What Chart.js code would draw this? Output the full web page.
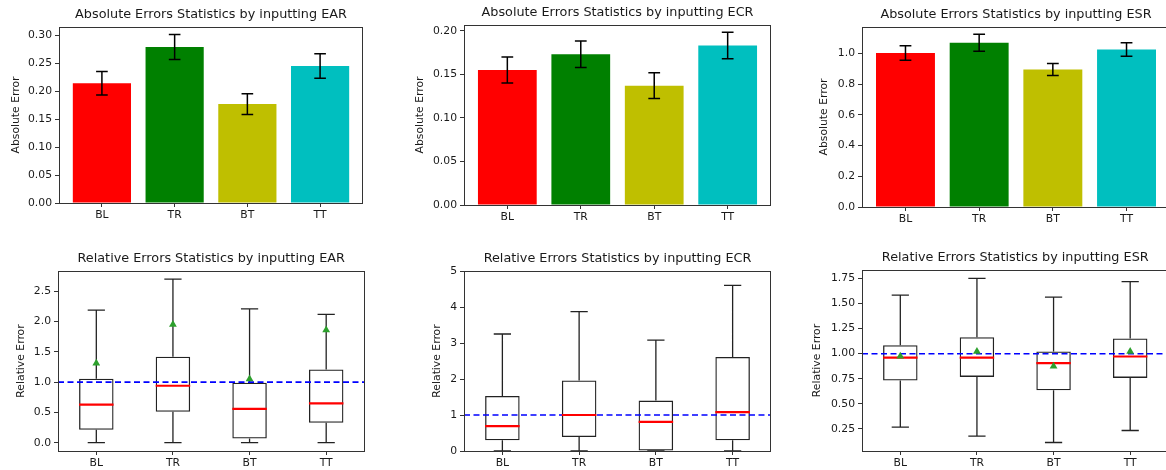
<!DOCTYPE html>
<html>
<head>
<meta charset="utf-8">
<script src="https://cdn.jsdelivr.net/npm/chart.js@4.4.1/dist/chart.umd.min.js"></script>
<style>
  html, body { margin: 0; padding: 0; background: #fff; width: 1166px; height: 470px; overflow: hidden; }
</style>
</head>
<body>
<script>
// ---- data ----
const groups = ['BL', 'TR', 'BT', 'TT'];
const barColors = ['#ff0000', '#008000', '#bfbf00', '#00bfbf'];

// absolute errors: mean and error-bar half height
const earAbsMean = [0.214, 0.279, 0.177, 0.245];
const earAbsErr = [0.021, 0.0225, 0.0185, 0.022];
const ecrAbsMean = [0.155, 0.173, 0.137, 0.183];
const ecrAbsErr = [0.015, 0.0152, 0.0148, 0.0152];
const esrAbsMean = [1.004, 1.07, 0.896, 1.026];
const esrAbsErr = [0.047, 0.055, 0.039, 0.044];

// relative errors: box plot stats
const earLo = [0, 0, 0, 0];
const earQ1 = [0.215, 0.51, 0.07, 0.33];
const earMed = [0.63, 0.94, 0.56, 0.65];
const earQ3 = [1.055, 1.42, 0.99, 1.21];
const earHi = [2.19, 2.70, 2.21, 2.12];
const earMean = [1.31, 1.95, 1.05, 1.86];

const ecrLo = [0, 0, 0, 0];
const ecrQ1 = [0.30, 0.39, 0.0, 0.30];
const ecrMed = [0.69, 1.00, 0.81, 1.08];
const ecrQ3 = [1.53, 1.96, 1.40, 2.61];
const ecrHi = [3.25, 3.87, 3.08, 4.60];

const esrLo = [0.267, 0.176, 0.113, 0.233];
const esrQ1 = [0.731, 0.768, 0.634, 0.758];
const esrMed = [0.961, 0.961, 0.905, 0.972];
const esrQ3 = [1.085, 1.165, 1.022, 1.152];
const esrHi = [1.586, 1.753, 1.566, 1.72];
const esrMean = [0.975, 1.022, 0.875, 1.022];

const refLine = 1.0;

// tick labels
const earAbsTicks = ['0.00', '0.05', '0.10', '0.15', '0.20', '0.25', '0.30'];
const ecrAbsTicks = ['0.00', '0.05', '0.10', '0.15', '0.20'];
const esrAbsTicks = ['0.0', '0.2', '0.4', '0.6', '0.8', '1.0'];
const earRelTicks = ['0.0', '0.5', '1.0', '1.5', '2.0', '2.5'];
const ecrRelTicks = ['0', '1', '2', '3', '4', '5'];
const esrRelTicks = ['0.25', '0.50', '0.75', '1.00', '1.25', '1.50', '1.75'];

// ---- layout ----
const FONT = 'DejaVu Sans';
const TXT = '#1a1a1a';
const AX = '#333';
const TITLE_SIZE = 12.8, SMALL = 10.8;
const YW = 60, XH = 24, TITLE_H = TITLE_SIZE * 1.2 + 5;

const framePlugin = {
  id: 'frame',
  afterDatasetsDraw(chart) {
    const { ctx, chartArea: a } = chart;
    ctx.save();
    ctx.strokeStyle = AX;
    ctx.lineWidth = 1;
    ctx.strokeRect(Math.round(a.left) + 0.5, Math.round(a.top) + 0.5,
      Math.round(a.right - a.left) - 1, Math.round(a.bottom - a.top));
    ctx.restore();
  }
};

// turn [x1,y1,x2,y2] pieces into one gappy line
function segs(list) {
  const out = [];
  list.forEach(([x1, y1, x2, y2]) => {
    out.push({ x: x1, y: y1 }, { x: x2, y: y2 }, { x: x2, y: null });
  });
  return out;
}

function makeCanvas(p) {
  const c = document.createElement('canvas');
  const w = p.r - p.l + YW + 2, h = p.b - p.top0 + XH;
  c.width = w; c.height = h;
  c.style.cssText = `position:absolute;left:${p.l - YW}px;top:${p.top0}px;width:${w}px;height:${h}px`;
  document.body.appendChild(c);
  return c;
}

function options(p, title, yTitle, tickLabels, xPos, xMin, xMax, yMin, yMax) {
  return {
    responsive: false,
    animation: false,
    layout: { padding: { left: 0, right: 2, top: p.t - p.top0 - TITLE_H, bottom: 0 } },
    plugins: {
      legend: { display: false },
      tooltip: { enabled: false },
      title: {
        display: true, text: title, fullSize: false, color: TXT,
        font: { family: FONT, size: TITLE_SIZE, weight: 'normal' },
        padding: { top: 0, bottom: 5 }
      }
    },
    scales: {
      x: {
        type: 'linear', min: xMin, max: xMax, offset: false,
        grid: { display: true, offset: false, drawOnChartArea: false, drawTicks: true, tickLength: 4, color: AX },
        border: { display: false },
        ticks: {
          autoSkip: false, maxRotation: 0, padding: 2, color: TXT,
          font: { family: FONT, size: SMALL },
          callback: (v) => groups[xPos.indexOf(v)] ?? ''
        },
        afterBuildTicks: (s) => { s.ticks = xPos.map(v => ({ value: v })); },
        afterFit: (s) => { s.height = XH; }
      },
      y: {
        type: 'linear', min: yMin, max: yMax,
        grid: { display: true, drawOnChartArea: false, drawTicks: true, tickLength: 4, color: AX },
        border: { display: false },
        title: {
          display: true, text: yTitle, color: TXT,
          font: { family: FONT, size: SMALL },
          padding: { top: p.yt, bottom: 0 }
        },
        ticks: {
          padding: 3, color: TXT, font: { family: FONT, size: SMALL },
          callback: (v, i) => tickLabels[i]
        },
        afterBuildTicks: (s) => { s.ticks = tickLabels.map(t => ({ value: parseFloat(t) })); },
        afterFit: (s) => { s.width = YW; }
      }
    }
  };
}

const CAP = 0.08;
function barPanel(p, title, means, errs, tickLabels, yMax) {
  const xs = groups.map((g, i) => i);
  const pieces = [];
  xs.forEach((x, i) => {
    const lo = means[i] - errs[i], hi = means[i] + errs[i];
    pieces.push([x, lo, x, hi], [x - CAP, lo, x + CAP, lo], [x - CAP, hi, x + CAP, hi]);
  });
  new Chart(makeCanvas(p), {
    type: 'bar',
    data: {
      datasets: [
        {
          type: 'bar', order: 2,
          data: xs.map((x, i) => ({ x, y: means[i] })),
          backgroundColor: barColors, borderWidth: 0,
          categoryPercentage: 1, barPercentage: 0.8
        },
        {
          type: 'line', order: 1, data: segs(pieces),
          borderColor: '#000', borderWidth: 1.5, pointRadius: 0, spanGaps: false, fill: false
        }
      ]
    },
    options: options(p, title, 'Absolute Error', tickLabels, xs, -0.59, 3.59, 0, yMax),
    plugins: [framePlugin]
  });
}

const BOXW = 0.45, WCAP = 0.1125;
function boxPanel(p, title, lo, q1, med, q3, hi, mean, tickLabels, yMin, yMax) {
  const xs = groups.map((g, i) => i + 1);
  const whisk = [], meds = [];
  xs.forEach((x, i) => {
    whisk.push([x, q1[i], x, lo[i]], [x, q3[i], x, hi[i]],
      [x - WCAP, lo[i], x + WCAP, lo[i]], [x - WCAP, hi[i], x + WCAP, hi[i]]);
    meds.push([x - BOXW / 2, med[i], x + BOXW / 2, med[i]]);
  });
  const datasets = [
    {
      type: 'bar', order: 5,
      data: xs.map((x, i) => ({ x, y: [q1[i], q3[i]] })),
      backgroundColor: 'rgba(0,0,0,0)', borderColor: '#222', borderWidth: 1.3,
      borderSkipped: false, categoryPercentage: 1, barPercentage: BOXW
    },
    {
      type: 'line', order: 4, data: segs(whisk),
      borderColor: '#222', borderWidth: 1.3, pointRadius: 0, spanGaps: false, fill: false
    },
    {
      type: 'line', order: 3, data: [{ x: 0.5, y: refLine }, { x: 4.5, y: refLine }],
      borderColor: '#0000ff', borderWidth: 1.6, borderDash: [6, 3.5], pointRadius: 0, fill: false
    },
    {
      type: 'line', order: 2, data: segs(meds),
      borderColor: '#ff0000', borderWidth: 2.2, pointRadius: 0, spanGaps: false, fill: false
    }
  ];
  if (mean) {
    datasets.push({
      type: 'line', order: 1, showLine: false,
      data: xs.map((x, i) => ({ x, y: mean[i] })),
      pointStyle: 'triangle', pointRadius: 4.5,
      backgroundColor: '#2ca02c', borderColor: '#2ca02c', borderWidth: 0
    });
  }
  new Chart(makeCanvas(p), {
    type: 'bar',
    data: { datasets },
    options: options(p, title, 'Relative Error', tickLabels, xs, 0.5, 4.5, yMin, yMax),
    plugins: [framePlugin]
  });
}

// panel plot areas (px) and y-title offsets
const P1 = { l: 59, t: 27, r: 363, b: 203, top0: 0, yt: 11 };
const P2 = { l: 464, t: 25, r: 771, b: 205, top0: 0, yt: 10 };
const P3 = { l: 862, t: 27, r: 1170, b: 207, top0: 0, yt: 16 };
const P4 = { l: 58, t: 271, r: 367, b: 451, top0: 230, yt: 17 };
const P5 = { l: 464, t: 271, r: 771, b: 451, top0: 230, yt: 27 };
const P6 = { l: 862, t: 270, r: 1171, b: 451, top0: 230, yt: 9 };

barPanel(P1, 'Absolute Errors Statistics by inputting EAR', earAbsMean, earAbsErr, earAbsTicks, 0.3148);
barPanel(P2, 'Absolute Errors Statistics by inputting ECR', ecrAbsMean, ecrAbsErr, ecrAbsTicks, 0.2066);
barPanel(P3, 'Absolute Errors Statistics by inputting ESR', esrAbsMean, esrAbsErr, esrAbsTicks, 1.173);
boxPanel(P4, 'Relative Errors Statistics by inputting EAR', earLo, earQ1, earMed, earQ3, earHi, earMean, earRelTicks, -0.137, 2.835);
boxPanel(P5, 'Relative Errors Statistics by inputting ECR', ecrLo, ecrQ1, ecrMed, ecrQ3, ecrHi, null, ecrRelTicks, 0, 5);
boxPanel(P6, 'Relative Errors Statistics by inputting ESR', esrLo, esrQ1, esrMed, esrQ3, esrHi, esrMean, esrRelTicks, 0.028, 1.836);
</script>
</body>
</html>
